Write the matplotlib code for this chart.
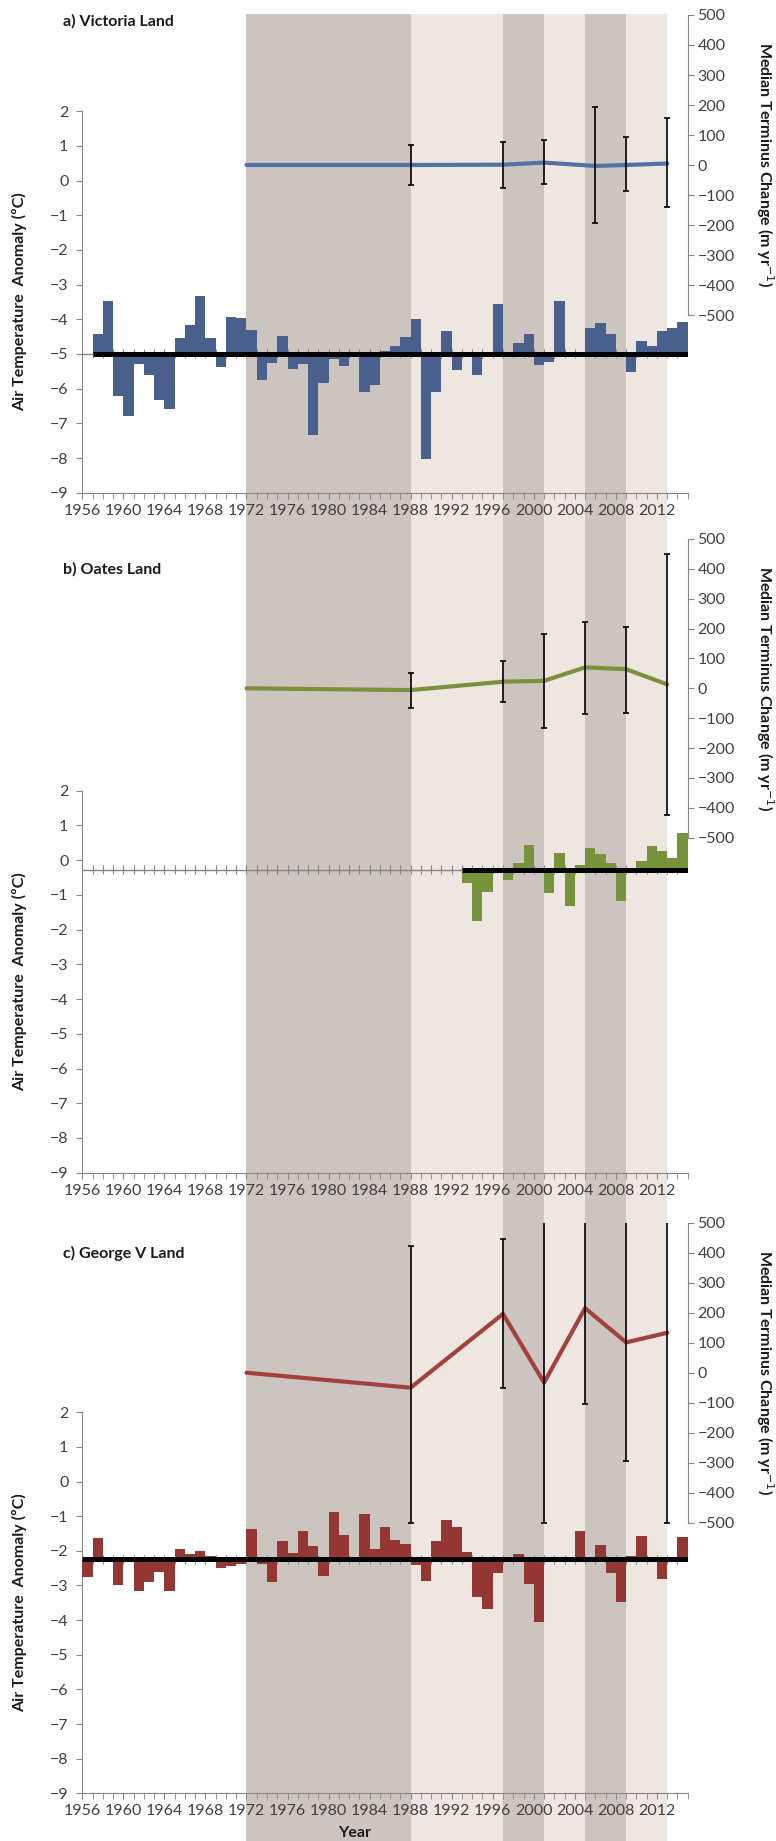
"""
plot.py
Air temperature anomaly (bars) and median terminus change (line + error bars)
for three Antarctic coastal regions, stacked vertically.

Run:
    python plot.py   -> writes out.png
"""

import numpy as np
import matplotlib
matplotlib.use("Agg")
import matplotlib.pyplot as plt

nan = np.nan

# ---------------------------------------------------------------- data
YEARS = np.arange(1956, 2015)          # one bar per year, 1956..2014
TICK_YEARS = np.arange(1956, 2013, 4)

# Air temperature anomaly (degC); nan = no bar
TEMP_VICTORIA = [
    nan, -4.42, -3.46, -6.20, -6.78, -5.29, -5.62, -6.32, -6.60, -4.55,   # 1956-65
    -4.16, -3.34, -4.55, -5.37, -3.92, -3.97, -4.31, -5.74, -5.26, -4.47,  # 1966-75
    -5.43, -5.29, -7.34, -5.84, -5.14, -5.34, -5.10, -6.10, -5.89, -4.92,  # 1976-85
    -4.78, -4.51, -3.99, -8.03, -6.10, -4.33, -5.45, nan, -5.60, nan,      # 1986-95
    -3.55, -5.05, -4.68, -4.41, -5.32, -5.24, -3.48, nan, nan, -4.25,      # 1996-2005
    -4.11, -4.41, nan, -5.51, -4.64, -4.78, -4.33, -4.26, -4.09,           # 2006-14
]
TEMP_OATES = [nan] * 37 + [
    -0.65, -1.75, -0.91, nan, -0.56, -0.08, 0.43, nan, -0.96, 0.22,        # 1993-2002
    -1.32, -0.15, 0.36, 0.19, -0.08, -1.17, nan, -0.02, 0.40, 0.27,        # 2003-12
    0.05, 0.79,                                                            # 2013-14
]
TEMP_GEORGE = [
    -2.75, -1.63, nan, -3.00, nan, -3.16, -2.91, -2.61, -3.16, -1.94,      # 1956-65
    -2.10, -2.01, -2.15, -2.50, -2.45, -2.37, -1.37, -2.37, -2.90, -1.73,  # 1966-75
    -2.07, -1.44, -1.85, -2.73, -0.88, -1.53, nan, -0.94, -1.94, -1.31,    # 1976-85
    -1.68, -1.81, -2.40, -2.88, -1.71, -1.12, -1.31, -2.02, -3.34, -3.68,  # 1986-95
    -2.64, nan, -2.08, -2.96, -4.04, nan, nan, nan, -1.42, nan,            # 1996-2005
    -1.84, -2.64, -3.47, -2.14, -1.57, nan, -2.82, nan, -1.60,             # 2006-14
]
# the level the bars hang from in each panel
BASE_VICTORIA = -5.0
BASE_OATES = -0.27
BASE_GEORGE = -2.24

# Median terminus change (m/yr) with the ends of the error bars
TERM_YEARS_VICTORIA = [1972, 1988, 1997, 2001, 2006, 2009, 2013]
TERM_VICTORIA = [0, 0, 1, 8, -3, 0, 5]
TERM_HI_VICTORIA = [nan, 68, 76, 82, 192, 95, 157]
TERM_LO_VICTORIA = [nan, -66, -75, -63, -194, -87, -141]

TERM_YEARS_OATES = [1972, 1988, 1997, 2001, 2005, 2009, 2013]
TERM_OATES = [0, -6, 22, 25, 70, 64, 13]
TERM_HI_OATES = [nan, 52, 91, 182, 223, 204, 450]
TERM_LO_OATES = [nan, -67, -45, -132, -86, -84, -423]

TERM_YEARS_GEORGE = [1972, 1988, 1997, 2001, 2005, 2009, 2013]
TERM_GEORGE = [0, -50, 196, -33, 215, 101, 133]
TERM_HI_GEORGE = [nan, 422, 447, 520, 520, 520, 520]
TERM_LO_GEORGE = [nan, -500, -52, -500, -104, -294, -500]

# shaded periods behind all panels
DARK_PERIODS = [(1972, 1988), (1997, 2001), (2005, 2009)]
LIGHT_PERIODS = [(1988, 1997), (2001, 2005), (2009, 2013)]

# ---------------------------------------------------------------- layout
W, H = 776, 1841
X0, X1 = 82.3, 687.7            # pixel x of 1956 and 2015
AX_COLOR = "#868686"
TXT_COLOR = "#404040"
LABEL_COLOR = "#1a1a1a"
FONT = ["Lato", "DejaVu Sans"]
FS = 11.5

plt.rcParams["font.family"] = FONT
plt.rcParams["font.size"] = FS


def rect(ytop, ybot, x0=X0, x1=X1):
    """Pixel box (top-left origin) -> figure fraction rect."""
    return [x0 / W, 1 - ybot / H, (x1 - x0) / W, (ybot - ytop) / H]


def draw_panel(fig, title, geo, temps, base, term_years, term, hi, lo,
               bar_color, line_color):
    title_y, r500, rm500, l2, l9 = geo
    ax = fig.add_axes(rect(r500, l9))
    ax.patch.set_visible(False)
    ax.set_zorder(2)

    # left axis: -9..2, its top extends up to the right axis' 500 mark
    pxu = (l9 - l2) / 11.0
    ax.set_ylim(-9, 2 + (l2 - r500) / pxu)
    ax.set_xlim(1956, 2015)

    temps = np.array(temps, dtype=float)
    ok = ~np.isnan(temps)
    ax.bar(YEARS[ok], temps[ok] - base, bottom=base, width=1.0, align="edge",
           color=bar_color, edgecolor="none", zorder=3)

    # baseline: thin grey where there is no data yet, thick black after
    first = YEARS[ok][0]
    if first > 1956:
        ax.hlines(base, 1956, first, color=AX_COLOR, lw=1.0, zorder=2)
    ax.hlines(base, first, 2015, color="black", lw=3.6, zorder=4)
    ax.vlines(np.arange(1956, 2016), base - 0.13, base + 0.13,
              color=AX_COLOR, lw=0.8, zorder=2)

    for side in ("top", "right"):
        ax.spines[side].set_visible(False)
    for side in ("left", "bottom"):
        ax.spines[side].set_color(AX_COLOR)
    ax.spines["left"].set_bounds(-9, 2)
    ax.set_yticks(range(-9, 3))
    ax.set_xticks(TICK_YEARS)
    ax.set_xticks(np.arange(1956, 2016), minor=True)
    ax.tick_params(axis="x", which="both", direction="out", length=4,
                   color=AX_COLOR, labelcolor=TXT_COLOR, pad=4)
    ax.tick_params(axis="y", direction="out", length=4, color=AX_COLOR,
                   labelcolor=TXT_COLOR, pad=6)

    # right axis: terminus change
    ax2 = ax.twinx()
    ax2.set_zorder(3)
    ax2.patch.set_visible(False)
    rpx = (rm500 - r500) / 1000.0
    ax2.set_ylim(-500 - (l9 - rm500) / rpx, 500)
    for side in ("top", "left", "bottom"):
        ax2.spines[side].set_visible(False)
    ax2.spines["right"].set_color(AX_COLOR)
    ax2.spines["right"].set_bounds(-500, 500)
    ax2.set_yticks(range(-500, 501, 100))
    ax2.tick_params(axis="y", direction="out", length=4, color=AX_COLOR,
                    labelcolor=TXT_COLOR, pad=3)

    term_years = np.array(term_years, dtype=float)
    term = np.array(term, dtype=float)
    hi = np.array(hi, dtype=float)
    lo = np.array(lo, dtype=float)
    ax2.plot(term_years, term, color=line_color, lw=3.0,
             solid_capstyle="round", zorder=4)
    m = ~np.isnan(hi)
    ax2.errorbar(term_years[m], term[m],
                 yerr=[term[m] - lo[m], hi[m] - term[m]],
                 fmt="none", ecolor="black", elinewidth=1.2, capsize=2.2,
                 capthick=1.2, zorder=5)

    fig.text(63 / W, 1 - title_y / H, title, fontweight="bold",
             fontsize=FS, color=LABEL_COLOR, ha="left", va="center")
    fig.text(20 / W, 1 - (l2 + l9) / 2 / H,
             "Air Temperature  Anomaly (ºC)", rotation=90, fontweight="bold",
             fontsize=FS, color=LABEL_COLOR, ha="center", va="center")
    fig.text(765 / W, 1 - (r500 + rm500) / 2 / H,
             "Median Terminus Change (m yr$^{-1}$)", rotation=-90,
             fontweight="bold", fontsize=FS, color=LABEL_COLOR,
             ha="center", va="center")
    return ax


def main(out="out.png"):
    fig = plt.figure(figsize=(W / 100, H / 100), dpi=100)
    fig.patch.set_facecolor("white")

    # shading column running behind all three panels
    bg = fig.add_axes(rect(14, H))
    bg.set_xlim(1956, 2015)
    bg.set_ylim(0, 1)
    bg.axis("off")
    bg.set_zorder(0)
    for a, b in DARK_PERIODS:
        bg.axvspan(a, b, color="#CCC5BF", lw=0)
    for a, b in LIGHT_PERIODS:
        bg.axvspan(a, b, color="#EDE6E1", lw=0)

    draw_panel(fig, "a) Victoria Land", (21, 15, 315, 111.2, 492.7),
               TEMP_VICTORIA, BASE_VICTORIA, TERM_YEARS_VICTORIA,
               TERM_VICTORIA, TERM_HI_VICTORIA, TERM_LO_VICTORIA,
               "#4A608C", "#5670A6")
    draw_panel(fig, "b) Oates Land", (569, 538.9, 837.7, 790.7, 1172.7),
               TEMP_OATES, BASE_OATES, TERM_YEARS_OATES,
               TERM_OATES, TERM_HI_OATES, TERM_LO_OATES,
               "#77933C", "#7C8F3A")
    draw_panel(fig, "c) George V Land", (1253, 1222.7, 1522.7, 1412.3, 1793.3),
               TEMP_GEORGE, BASE_GEORGE, TERM_YEARS_GEORGE,
               TERM_GEORGE, TERM_HI_GEORGE, TERM_LO_GEORGE,
               "#943634", "#A2423E")

    fig.text(355 / W, 1 - 1833 / H, "Year", fontweight="bold",
             fontsize=FS, color=LABEL_COLOR, ha="center", va="center")

    fig.savefig(out, dpi=100)
    print(f"Saved plot -> {out}")


if __name__ == "__main__":
    main()
